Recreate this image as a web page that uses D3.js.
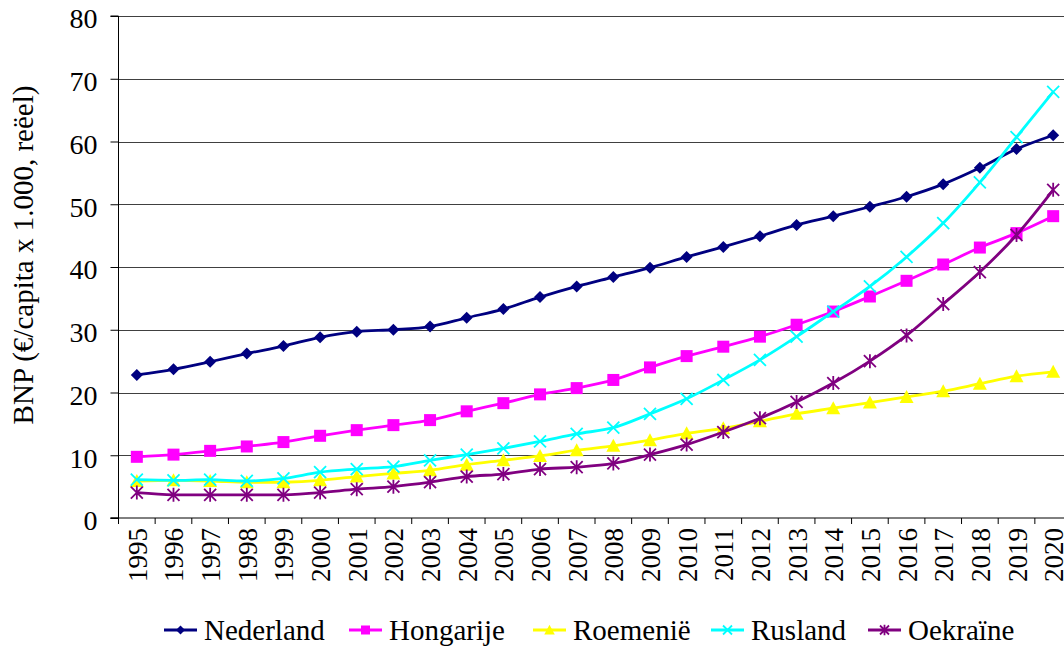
<!DOCTYPE html>
<html>
<head>
<meta charset="utf-8">
<script src="https://cdn.jsdelivr.net/npm/d3@7"></script>
<style>
  body { margin: 0; background: #fff; }
</style>
</head>
<body>
<div id="chart"></div>
<script>
// Data
const years = d3.range(1995, 2021).map(String);
const nederland = [22.8, 23.7, 24.9, 26.2, 27.4, 28.8, 29.7, 30.0, 30.5, 31.9, 33.3, 35.2, 36.9, 38.4, 39.9, 41.6, 43.2, 44.9, 46.7, 48.1, 49.6, 51.2, 53.2, 55.8, 58.8, 61.0];
const hongarije = [9.75, 10.1, 10.7, 11.4, 12.1, 13.1, 14.0, 14.8, 15.6, 17.0, 18.3, 19.7, 20.7, 22.0, 24.0, 25.8, 27.3, 28.9, 30.8, 32.9, 35.3, 37.8, 40.4, 43.1, 45.4, 48.1];
const roemenie = [5.9, 6.0, 5.9, 5.7, 5.7, 6.0, 6.6, 7.1, 7.6, 8.5, 9.2, 9.9, 10.8, 11.5, 12.4, 13.5, 14.3, 15.4, 16.6, 17.5, 18.4, 19.3, 20.2, 21.4, 22.6, 23.3];
const rusland = [6.1, 6.0, 6.1, 5.9, 6.3, 7.3, 7.8, 8.2, 9.2, 10.1, 11.1, 12.2, 13.4, 14.4, 16.6, 19.0, 22.0, 25.2, 28.9, 32.9, 36.9, 41.6, 47.0, 53.5, 60.7, 67.9];
const oekraine = [4.05, 3.7, 3.7, 3.7, 3.7, 4.05, 4.6, 5.0, 5.7, 6.6, 7.0, 7.8, 8.1, 8.7, 10.1, 11.7, 13.7, 15.9, 18.5, 21.5, 25.0, 29.1, 34.1, 39.2, 45.1, 52.3];
const yTicks = [0, 10, 20, 30, 40, 50, 60, 70, 80];

const series = [
  { name: "Nederland", values: nederland, color: "#000080", marker: "diamond" },
  { name: "Hongarije", values: hongarije, color: "#FF00FF", marker: "square" },
  { name: "Roemenië", values: roemenie, color: "#FFFF00", marker: "triangle" },
  { name: "Rusland", values: rusland, color: "#00FFFF", marker: "cross" },
  { name: "Oekraïne", values: oekraine, color: "#800080", marker: "star" }
];

const FONT = "'Liberation Serif', 'Times New Roman', Times, serif";
const svgWidth = 1064, svgHeight = 646;
const plot = { left: 118.5, right: 1071.5, top: 16, bottom: 518 };

const svg = d3.select("#chart").append("svg")
  .attr("width", svgWidth)
  .attr("height", svgHeight)
  .style("font-family", FONT);

const x = d3.scaleBand().domain(years).range([plot.left, plot.right]);
const y = d3.scaleLinear().domain([0, 80]).range([plot.bottom, plot.top]);

// gridlines
svg.append("g")
  .selectAll("line")
  .data(yTicks.filter(d => d > 0))
  .join("line")
  .attr("x1", plot.left).attr("x2", plot.right)
  .attr("y1", d => Math.round(y(d)) + 0.5).attr("y2", d => Math.round(y(d)) + 0.5)
  .attr("stroke", "#404040")
  .attr("stroke-width", 1.2);

// y axis
const yAxis = svg.append("g")
  .attr("transform", `translate(${plot.left},0)`)
  .call(d3.axisLeft(y).tickValues(yTicks).tickSize(8).tickPadding(13));
yAxis.selectAll("text").style("font-size", "28px").style("font-family", FONT).attr("dy", "0.42em");
yAxis.selectAll("line, path").attr("stroke", "#000");
yAxis.select(".domain").attr("d", `M-8,${plot.top}H0V${plot.bottom}H-8`);

// x axis: ticks at category boundaries
const xAxis = svg.append("g").attr("transform", `translate(0,${plot.bottom})`);
xAxis.append("line")
  .attr("x1", plot.left - 8).attr("x2", plot.right)
  .attr("stroke", "#000");
xAxis.selectAll(".tk")
  .data(years)
  .join("line")
  .attr("class", "tk")
  .attr("x1", d => x(d)).attr("x2", d => x(d))
  .attr("y1", 0).attr("y2", 6)
  .attr("stroke", "#000");
xAxis.selectAll(".lbl")
  .data(years)
  .join("text")
  .attr("class", "lbl")
  .attr("transform", d => `translate(${x(d) + x.bandwidth() / 2 + 10},10) rotate(-90)`)
  .attr("text-anchor", "end")
  .style("font-family", FONT)
  .style("font-size", "27px")
  .text(d => d);

// y title
svg.append("text")
  .attr("transform", `translate(33,255) rotate(-90)`)
  .attr("text-anchor", "middle")
  .style("font-family", FONT)
  .style("font-size", "29px")
  .text("BNP (€/capita x 1.000, reëel)");

// markers
function drawMarker(g, type, color, k) {
  if (type === "diamond") {
    g.append("path").attr("d", `M0,${-6 * k}L${6 * k},0L0,${6 * k}L${-6 * k},0Z`).attr("fill", color);
  } else if (type === "square") {
    g.append("rect").attr("x", -6 * k).attr("y", -6 * k).attr("width", 12 * k).attr("height", 12 * k).attr("fill", color);
  } else if (type === "triangle") {
    g.append("path").attr("d", `M0,${-7 * k}L${7 * k},${6 * k}L${-7 * k},${6 * k}Z`).attr("fill", color);
  } else if (type === "cross") {
    g.append("path").attr("d", `M${-6 * k},${-6 * k}L${6 * k},${6 * k}M${-6 * k},${6 * k}L${6 * k},${-6 * k}`)
      .attr("stroke", color).attr("stroke-width", 1.8);
  } else if (type === "star") {
    g.append("path").attr("d", `M${-6 * k},${-6 * k}L${6 * k},${6 * k}M${-6 * k},${6 * k}L${6 * k},${-6 * k}M0,${-7 * k}V${7 * k}`)
      .attr("stroke", color).attr("stroke-width", 1.8);
  }
}

const line = d3.line()
  .x((d, i) => x(years[i]) + x.bandwidth() / 2)
  .y(d => y(d))
  .curve(d3.curveCatmullRom.alpha(0.5));

series.forEach(s => {
  svg.append("path")
    .datum(s.values)
    .attr("fill", "none")
    .attr("stroke", s.color)
    .attr("stroke-width", 2.8)
    .attr("d", line);
  s.values.forEach((v, i) => {
    const g = svg.append("g")
      .attr("transform", `translate(${x(years[i]) + x.bandwidth() / 2},${y(v)})`);
    drawMarker(g, s.marker, s.color, 1);
  });
});

// legend
const legendX = [164, 349, 533, 711, 868];
const legend = svg.append("g").attr("transform", "translate(0,630)");
series.forEach((s, i) => {
  const g = legend.append("g").attr("transform", `translate(${legendX[i]},0)`);
  g.append("line").attr("x1", 0).attr("x2", 33).attr("stroke", s.color).attr("stroke-width", 2.8);
  const m = g.append("g").attr("transform", "translate(16.5,0)");
  drawMarker(m, s.marker, s.color, 0.75);
  g.append("text").attr("x", 40).attr("y", 10)
    .style("font-family", FONT).style("font-size", "29px").text(s.name);
});
</script>
</body>
</html>
